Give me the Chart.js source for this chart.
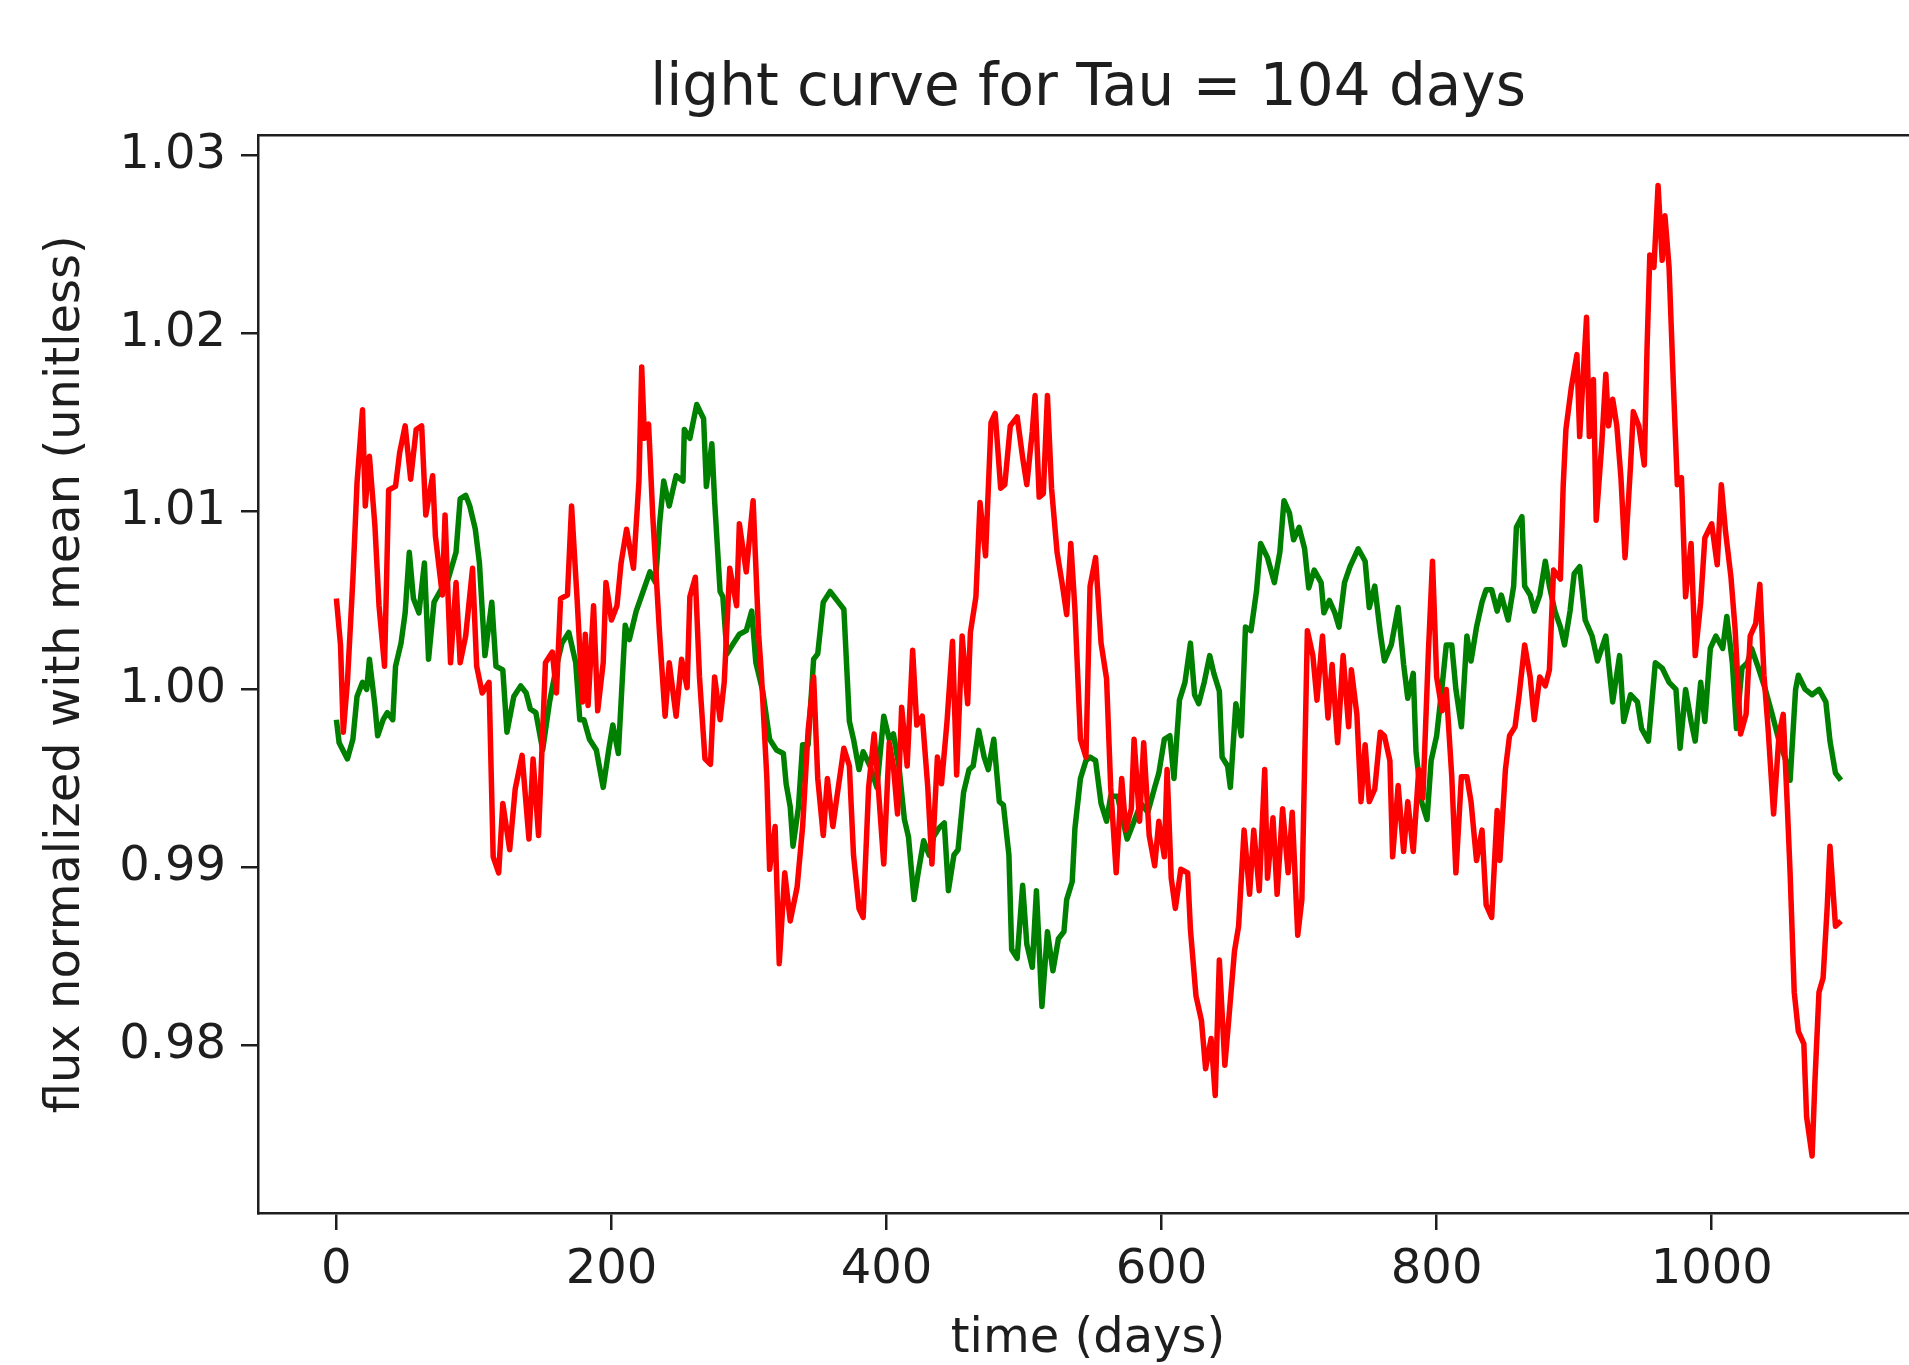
<!DOCTYPE html>
<html>
<head>
<meta charset="utf-8">
<title>light curve for Tau = 104 days</title>
<script src="https://cdn.jsdelivr.net/npm/chart.js@4.4.0/dist/chart.umd.min.js"></script>
<style>
  html, body { margin: 0; padding: 0; background: #fff; overflow: hidden; }
  canvas { display: block; }
</style>
</head>
<body>
<canvas id="lightCurve" width="1930" height="1365" style="width:1930px;height:1365px"></canvas>
<script>
// days sampled along each curve, and the normalized flux read at those days
const redDays = [
  0, 3, 5, 8, 12, 15, 19, 21, 24, 28, 31, 35, 38, 43, 46, 50, 54, 58, 62, 65, 70, 72, 77, 79, 83, 87, 90, 94, 99, 102,
  106, 111, 114, 118, 121, 126, 130, 135, 140, 143, 147, 152, 157, 160, 163, 168, 171, 175, 179,
  181, 183, 187, 190, 194, 196, 200, 204, 207, 211, 216, 220, 222, 224, 227, 230, 235, 239, 242, 247, 251, 255, 257, 261, 264, 268,
  272, 275, 279, 282, 286, 291, 293, 298, 303, 307, 309, 313, 315, 319, 322, 326, 330, 335, 339, 343, 347, 350, 354, 357, 361, 364,
  369, 373, 376, 380, 383, 387, 391, 394, 398, 402, 405, 408, 411, 415, 419, 422, 426, 430, 433, 437, 440, 444, 448, 451, 455, 459,
  461, 465, 468, 472, 476, 479, 483, 486, 490, 495, 499, 502, 506, 508, 511, 514, 517, 520, 524, 528, 531, 534, 537, 541, 545, 548,
  552, 556, 560, 563, 567, 571, 574, 578, 580, 584, 587, 591, 595, 598, 602, 604, 607, 610, 614, 619, 621, 625, 629, 632, 636, 639,
  642, 646, 649, 653, 656, 660, 664, 667, 671, 675, 677, 681, 684, 688, 692, 695, 699, 702, 706, 710, 713, 717, 721, 724, 728, 732,
  736, 738, 742, 745, 748, 751, 755, 759, 762, 766, 768, 772, 776, 779, 783, 787, 790, 794, 797, 800, 804, 807, 811, 814, 818, 822, 825,
  829, 833, 836, 840, 844, 846, 850, 853, 857, 860, 864, 868, 871, 875, 879, 882, 885, 890, 892, 894, 898, 902, 904, 909, 911, 914, 916,
  920, 923, 925, 928, 931, 934, 937, 941, 943, 947, 951, 953, 955, 958, 961, 964, 966, 969, 972, 975, 978, 981, 985, 988, 992, 995, 1000, 1004,
  1007, 1010, 1014, 1017, 1021, 1025, 1028, 1032, 1035, 1038, 1041, 1045, 1049, 1052, 1055, 1057, 1060, 1063, 1067, 1069, 1073, 1075, 1078, 1081,
  1084, 1086, 1090, 1094
];
const redFlux = [
  1.0051, 1.0025, 0.9976, 1.0004, 1.0062, 1.0116, 1.0157, 1.0103, 1.0131, 1.0092, 1.0047, 1.0013, 1.0112, 1.0114, 1.0133, 1.0148, 1.0118, 1.0146, 1.0148, 1.0098, 1.0120, 1.0086, 1.0053, 1.0098, 1.0015, 1.0060, 1.0015, 1.0030, 1.0068, 1.0013,
  0.9998, 1.0004, 0.9906, 0.9897, 0.9936, 0.9910, 0.9944, 0.9963, 0.9916, 0.9961, 0.9918, 1.0015, 1.0021, 0.9998, 1.0051, 1.0053, 1.0103, 1.0051, 0.9993,
  1.0031, 0.9991, 1.0047, 0.9988, 1.0015, 1.0060, 1.0039, 1.0047, 1.0071, 1.0090, 1.0068, 1.0117, 1.0181, 1.0141, 1.0149, 1.0098, 1.0031, 0.9985, 1.0015, 0.9985, 1.0017, 1.0001, 1.0052, 1.0063, 1.0007, 0.9961,
  0.9958, 1.0007, 0.9983, 1.0004, 1.0068, 1.0047, 1.0093, 1.0066, 1.0106, 1.0031, 1.0009, 0.9950, 0.9899, 0.9923, 0.9846, 0.9897, 0.9870, 0.9889, 0.9923, 0.9977, 1.0007, 0.9950, 0.9918, 0.9950, 0.9923, 0.9940,
  0.9967, 0.9957, 0.9907, 0.9877, 0.9872, 0.9945, 0.9975, 0.9945, 0.9902, 0.9970, 0.9957, 0.9930, 0.9990, 0.9957, 1.0022, 0.9980, 0.9985, 0.9945, 0.9902, 0.9962, 0.9947, 0.9982, 1.0027, 0.9952, 1.0030, 0.9992,
  1.0032, 1.0052, 1.0105, 1.0075, 1.0150, 1.0155, 1.0113, 1.0115, 1.0148, 1.0153, 1.0130, 1.0115, 1.0145, 1.0165, 1.0108, 1.0110, 1.0165, 1.0113, 1.0077, 1.0058, 1.0042, 1.0082, 1.0045, 0.9972, 0.9962, 1.0058,
  1.0074, 1.0026, 1.0006, 0.9945, 0.9897, 0.9950, 0.9921, 0.9933, 0.9972, 0.9926, 0.9970, 0.9918, 0.9901, 0.9926, 0.9906, 0.9955, 0.9894, 0.9877, 0.9899, 0.9897, 0.9865, 0.9828, 0.9814, 0.9787, 0.9804, 0.9772,
  0.9848, 0.9789, 0.9816, 0.9853, 0.9867, 0.9921, 0.9885, 0.9921, 0.9887, 0.9955, 0.9894, 0.9928, 0.9885, 0.9933, 0.9897, 0.9931, 0.9862, 0.9882, 1.0033, 1.0019, 0.9994, 1.0030, 0.9984, 1.0014, 0.9970, 1.0019,
  0.9979, 1.0011, 0.9986, 0.9937, 0.9969, 0.9937, 0.9944, 0.9976, 0.9974, 0.9960, 0.9906, 0.9946, 0.9909, 0.9937, 0.9909, 0.9955, 0.9939, 1.0021, 1.0072, 1.0007, 0.9988, 1.0000, 0.9951, 0.9897, 0.9951, 0.9951, 0.9937,
  0.9904, 0.9921, 0.9879, 0.9872, 0.9932, 0.9904, 0.9955, 0.9974, 0.9979, 0.9997, 1.0025, 1.0007, 0.9983, 1.0007, 1.0002, 1.0011, 1.0067, 1.0062, 1.0114, 1.0146, 1.0170, 1.0188, 1.0142, 1.0209, 1.0142, 1.0174, 1.0095,
  1.0137, 1.0177, 1.0148, 1.0163, 1.0148, 1.0119, 1.0074, 1.0126, 1.0156, 1.0148, 1.0126, 1.0192, 1.0244, 1.0237, 1.0283, 1.0241, 1.0266, 1.0237, 1.0174, 1.0115, 1.0119, 1.0052, 1.0082, 1.0019, 1.0049, 1.0085, 1.0093, 1.0070,
  1.0115, 1.0089, 1.0063, 1.0034, 0.9975, 0.9986, 1.0030, 1.0037, 1.0059, 1.0008, 0.9978, 0.9930, 0.9975, 0.9986, 0.9934, 0.9897, 0.9830, 0.9808, 0.9801, 0.9760, 0.9738, 0.9779, 0.9830, 0.9838,
  0.9878, 0.9912, 0.9867, 0.9870
];

const greenDays = [
  0, 2, 8, 12, 15, 19, 22, 24, 28, 30, 34, 37, 41, 43, 47, 50, 53, 56, 60, 64, 67, 71, 76, 79, 87, 90, 94, 97, 101, 104,
  108, 113, 116, 121, 124, 129, 134, 138, 141, 145, 150, 155, 160, 164, 169, 174, 177,
  180, 184, 189, 194, 198, 201, 205, 210, 213, 218, 223, 228, 232, 235, 238, 242, 247, 252, 253, 257, 262, 267, 269, 273,
  275, 279, 281, 284, 288, 293, 298, 302, 305, 310, 315, 320, 325, 327, 330, 332, 336, 339, 343, 347, 350, 354, 359, 364,
  369, 373, 376, 380, 383, 388, 393, 398, 402, 405, 409, 413, 416, 420, 423, 427, 431, 434, 438, 442, 445, 449, 452, 456, 460,
  463, 467, 471, 474, 478, 482, 485, 489, 491, 495, 499, 502, 506, 509, 513, 517, 521, 525, 529, 531, 535, 537, 541, 545, 548,
  552, 556, 560, 563, 568, 572, 575, 580, 585, 590, 595, 598, 602, 606, 609, 613, 617, 621, 624, 627, 631, 635, 638, 642,
  644, 648, 650, 654, 658, 661, 665, 669, 672, 677, 682, 686, 689, 693, 696, 700, 704, 707, 711, 716, 718, 722, 726, 729, 733,
  737, 743, 748, 751, 755, 759, 762, 767, 772, 776, 779, 783, 785, 789, 793, 796, 800, 804, 807, 811, 814, 818, 822, 825,
  829, 833, 836, 840, 844, 847, 852, 856, 858, 862, 864, 868, 871, 875, 879, 882, 886, 890, 893, 897, 900, 904, 908, 913, 917,
  923, 928, 933, 936, 941, 946, 949, 954, 959, 964, 969, 974, 977, 981, 985, 988, 992, 995, 999, 1003,
  1008, 1011, 1015, 1018, 1022, 1026, 1029, 1034, 1039, 1044, 1049, 1054, 1057, 1061, 1063, 1068, 1073, 1078, 1083, 1086, 1090, 1094
];
const greenFlux = [
  0.9983, 0.9970, 0.9961, 0.9972, 0.9996, 1.0004, 1.0000, 1.0017, 0.9991, 0.9974, 0.9983, 0.9987, 0.9983, 1.0013, 1.0026, 1.0043, 1.0077, 1.0051, 1.0043, 1.0071, 1.0017, 1.0049, 1.0056, 1.0056, 1.0077, 1.0107, 1.0109, 1.0103, 1.0090, 1.0071,
  1.0019, 1.0049, 1.0013, 1.0011, 0.9976, 0.9996, 1.0002, 0.9998, 0.9989, 0.9987, 0.9966, 0.9993, 1.0013, 1.0026, 1.0032, 1.0015, 0.9983,
  0.9983, 0.9972, 0.9966, 0.9945, 0.9966, 0.9980, 0.9964, 1.0036, 1.0028, 1.0044, 1.0055, 1.0066, 1.0060, 1.0093, 1.0117, 1.0103, 1.0120, 1.0117, 1.0146, 1.0141, 1.0160, 1.0152, 1.0114, 1.0138,
  1.0106, 1.0055, 1.0052, 1.0020, 1.0025, 1.0031, 1.0033, 1.0044, 1.0015, 0.9999, 0.9972, 0.9966, 0.9964, 0.9947, 0.9934, 0.9912, 0.9934, 0.9969, 0.9969, 1.0017, 1.0020, 1.0049, 1.0055, 1.0050,
  1.0045, 0.9982, 0.9972, 0.9955, 0.9965, 0.9957, 0.9945, 0.9985, 0.9972, 0.9975, 0.9957, 0.9927, 0.9917, 0.9882, 0.9897, 0.9915, 0.9907, 0.9917, 0.9922, 0.9925, 0.9887, 0.9907, 0.9910, 0.9942, 0.9955,
  0.9957, 0.9977, 0.9962, 0.9955, 0.9972, 0.9937, 0.9935, 0.9907, 0.9854, 0.9849, 0.9890, 0.9857, 0.9844, 0.9887, 0.9822, 0.9864, 0.9842, 0.9860, 0.9864, 0.9882, 0.9892, 0.9922, 0.9950, 0.9960, 0.9962,
  0.9960, 0.9936, 0.9926, 0.9940, 0.9940, 0.9926, 0.9916, 0.9926, 0.9936, 0.9931, 0.9945, 0.9953, 0.9972, 0.9974, 0.9950, 0.9994, 1.0004, 1.0026, 0.9997, 0.9992, 1.0004, 1.0019, 1.0009, 0.9999,
  0.9962, 0.9957, 0.9945, 0.9992, 0.9974, 1.0035, 1.0033, 1.0055, 1.0082, 1.0074, 1.0060, 1.0077, 1.0106, 1.0099, 1.0084, 1.0091, 1.0079, 1.0057, 1.0067, 1.0060, 1.0043, 1.0050, 1.0043, 1.0035, 1.0060,
  1.0069, 1.0079, 1.0072, 1.0046, 1.0058, 1.0032, 1.0016, 1.0025, 1.0046, 1.0014, 0.9995, 1.0009, 0.9965, 0.9937, 0.9927, 0.9960, 0.9974, 1.0002, 1.0025, 1.0025, 1.0000, 0.9979, 1.0030, 1.0016,
  1.0035, 1.0049, 1.0056, 1.0056, 1.0044, 1.0053, 1.0039, 1.0058, 1.0091, 1.0097, 1.0058, 1.0053, 1.0044, 1.0053, 1.0072, 1.0058, 1.0044, 1.0035, 1.0025, 1.0044, 1.0065, 1.0069, 1.0039, 1.0030, 1.0016,
  1.0030, 0.9993, 1.0019, 0.9982, 0.9997, 0.9993, 0.9978, 0.9971, 1.0015, 1.0012, 1.0004, 1.0000, 0.9967, 1.0000, 0.9982, 0.9971, 1.0004, 0.9982, 1.0023, 1.0030,
  1.0023, 1.0041, 1.0015, 0.9978, 1.0012, 1.0015, 1.0023, 1.0012, 1.0000, 0.9986, 0.9971, 0.9960, 0.9949, 1.0000, 1.0008, 1.0000, 0.9997, 1.0000, 0.9993, 0.9971, 0.9953, 0.9949
];

const xTicks = [0, 200, 400, 600, 800, 1000];
const yTicks = [0.98, 0.99, 1.00, 1.01, 1.02, 1.03];

const FONT = "'DejaVu Sans', sans-serif";
const INK = '#1e1e1e';

function toPoints(days, flux) {
  return days.map((d, i) => ({ x: d, y: flux[i] }));
}

function axisLine() {
  return { display: true, color: INK, width: 2.5 };
}

new Chart(document.getElementById('lightCurve').getContext('2d'), {
  type: 'line',
  data: {
    datasets: [
      {
        label: 'red curve',
        data: toPoints(redDays, redFlux),
        borderColor: '#ff0000',
        borderWidth: 5.5
      },
      {
        label: 'green curve',
        data: toPoints(greenDays, greenFlux),
        borderColor: '#008000',
        borderWidth: 5.5
      }
    ]
  },
  options: {
    responsive: false,
    animation: false,
    devicePixelRatio: 1,
    layout: { padding: { left: 0, right: 12, top: 0, bottom: 0 } },
    elements: {
      point: { radius: 0 },
      line: { tension: 0, fill: false, borderJoinStyle: 'round', borderCapStyle: 'butt' }
    },
    plugins: {
      legend: { display: false },
      tooltip: { enabled: false },
      title: {
        display: true,
        fullSize: false,
        text: 'light curve for Tau = 104 days',
        color: INK,
        font: { family: FONT, size: 58, weight: 'normal', lineHeight: 1.2 },
        padding: { top: 55, bottom: 11 }
      }
    },
    scales: {
      x: {
        type: 'linear',
        position: 'bottom',
        min: -57,
        max: 1150,
        afterBuildTicks: s => { s.ticks = xTicks.map(v => ({ value: v })); },
        afterFit: s => { s.height = 152; },
        grid: { display: true, drawOnChartArea: false, drawTicks: true, tickLength: 17, lineWidth: 2.5, color: INK },
        border: axisLine(),
        ticks: {
          color: INK,
          font: { family: FONT, size: 48, lineHeight: 1.2 },
          padding: 12,
          maxRotation: 0,
          autoSkip: false,
          callback: v => String(v)
        },
        title: {
          display: true,
          text: 'time (days)',
          color: INK,
          font: { family: FONT, size: 48, lineHeight: 1.0 },
          padding: { top: 0, bottom: 1 }
        }
      },
      frameTop: {
        type: 'linear',
        position: 'top',
        display: true,
        afterFit: s => { s.height = 0; },
        grid: { display: false, drawTicks: false },
        ticks: { display: false },
        border: axisLine()
      },
      y: {
        type: 'linear',
        position: 'left',
        min: 0.9706,
        max: 1.0311,
        afterBuildTicks: s => { s.ticks = yTicks.map(v => ({ value: v })); },
        afterFit: s => { s.width = 258; },
        grid: { display: true, drawOnChartArea: false, drawTicks: true, tickLength: 17, lineWidth: 2.5, color: INK },
        border: axisLine(),
        ticks: {
          color: INK,
          font: { family: FONT, size: 48, lineHeight: 1.2 },
          padding: 15,
          autoSkip: false,
          callback: v => v.toFixed(2)
        },
        title: {
          display: true,
          text: 'flux normalized with mean (unitless)',
          color: INK,
          font: { family: FONT, size: 48, lineHeight: 1.0 },
          padding: { top: 43, bottom: 0 }
        }
      }
    }
  }
});
</script>
</body>
</html>
